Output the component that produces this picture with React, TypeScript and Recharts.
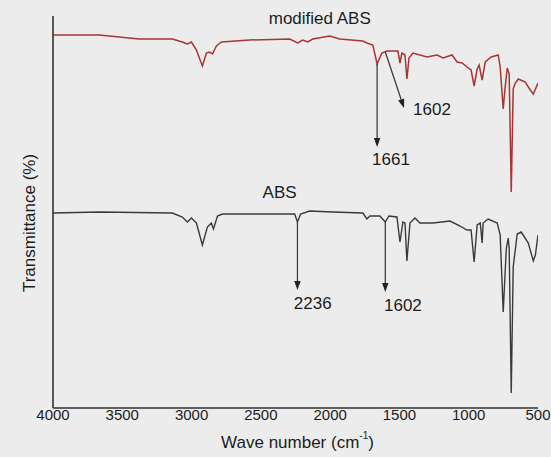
import React from 'react';
import { LineChart, Line, XAxis, YAxis, ReferenceLine, ReferenceDot } from 'recharts';

// Wavenumbers (cm-1) and transmittance (arbitrary %, offset spectra)
const modWn = [4000,3667,3378,3139,3067,3030,3001,2965,2922,2893,2871,2849,2821,2784,2582,2292,2234,2198,2162,2126,2003,1931,1764,1735,1692,1661,1627,1590,1511,1496,1482,1460,1446,1431,1402,1301,1229,1185,1120,1084,1048,1012,983,961,939,925,903,881,838,787,773,751,737,722,708,693,679,664,642,592,556,534,500];
const modT = [93.25,93.25,92.25,92.25,91.5,91,91.5,89.5,85.5,88.75,89,88.5,90.5,91.5,92,92.25,91.25,92,91.5,92.25,93,92.25,91.75,91.25,90.75,86,88.75,89.25,89.25,86.25,88.75,88.25,82.25,87.5,88.75,87.75,88.25,87.5,88.25,86.5,86.25,85.25,84.5,80.5,84.75,85.75,82,86.5,87.75,88.25,85.25,74.75,80.25,85,83.5,54,79.75,81.25,82.25,81.5,79.5,78.5,81.25];

const absWn = [4000,3667,3139,3067,3030,3001,2965,2922,2886,2857,2842,2813,2777,2256,2236,2213,2148,1981,1764,1735,1713,1641,1602,1576,1518,1496,1475,1460,1446,1424,1388,1352,1258,1135,1062,1012,983,961,939,917,903,896,860,794,773,751,729,715,708,693,679,650,621,570,534,519,500];
const absT = [48.75,49,48.75,47.75,46.5,47.5,46.25,40.75,45.25,46.25,44.75,48,48.5,48.5,46.5,48.5,49.25,49,48.75,47.25,48,48,46.5,48,47.75,41.5,46.5,46.25,36.75,46.25,47.5,46.25,46.25,46.75,45.5,44.5,44.5,36.5,45.75,46.25,41.25,46.25,47.25,46.25,43.25,24,39.75,42.5,40,3.75,35.25,43.5,44,41.25,36.75,38.25,43.25];

const xTicks = [4000, 3500, 3000, 2500, 2000, 1500, 1000, 500];

const arrows = [
  { x1: 1661, y1: 86, x2: 1661, y2: 65.25 },
  { x1: 1602, y1: 89, x2: 1467, y2: 75 },
  { x1: 2236, y1: 46.5, x2: 2236, y2: 29.5 },
  { x1: 1602, y1: 46.5, x2: 1602, y2: 29 },
];

const labels = [
  { text: 'modified ABS', x: 2075, y: 97.5 },
  { text: 'ABS', x: 2365, y: 54 },
  { text: '1602', x: 1265, y: 74.75 },
  { text: '1661', x: 1561, y: 62.25 },
  { text: '2236', x: 2126, y: 26.25 },
  { text: '1602', x: 1475, y: 25.75 },
];

const modData = modWn.map((wn, i) => ({ wn, t: modT[i] }));
const absData = absWn.map((wn, i) => ({ wn, t: absT[i] }));

const FONT = 'Liberation Sans, Arial, sans-serif';
const TEXT = '#1c1c1c';

const ArrowShape = (props: any) => {
  const { x1, y1, x2, y2 } = props;
  if ([x1, y1, x2, y2].some((v) => typeof v !== 'number' || isNaN(v))) return null;
  const ang = Math.atan2(y2 - y1, x2 - x1);
  const L = 9;
  const W = 3.2;
  const bx = x2 - L * Math.cos(ang);
  const by = y2 - L * Math.sin(ang);
  const px = -Math.sin(ang) * W;
  const py = Math.cos(ang) * W;
  return (
    <g>
      <line x1={x1} y1={y1} x2={bx} y2={by} stroke="#333" strokeWidth={1.2} />
      <polygon points={`${x2},${y2} ${bx + px},${by + py} ${bx - px},${by - py}`} fill="#222" />
    </g>
  );
};

const makeTextShape = (text: string) => (p: any) => (
  <text
    x={p.cx}
    y={p.cy}
    textAnchor="middle"
    dominantBaseline="central"
    fontFamily={FONT}
    fontSize={17}
    fill={TEXT}
  >
    {text}
  </text>
);

const YLabel = (props: any) => {
  const vb = props.viewBox || {};
  const cx = (vb.x || 0) + (vb.width || 0) / 2 + 3;
  const cy = (vb.y || 0) + (vb.height || 0) / 2 + 11;
  return (
    <text
      x={cx}
      y={cy}
      transform={`rotate(-90, ${cx}, ${cy})`}
      textAnchor="middle"
      dominantBaseline="central"
      fontFamily={FONT}
      fontSize={17}
      fill={TEXT}
    >
      Transmittance (%)
    </text>
  );
};

const XLabel = (props: any) => {
  const vb = props.viewBox || {};
  const cx = (vb.x || 0) + (vb.width || 0) / 2 + 2;
  const cy = (vb.y || 0) + 34;
  return (
    <text x={cx} y={cy} textAnchor="middle" dominantBaseline="central" fontFamily={FONT} fontSize={17} fill={TEXT}>
      Wave number (cm
      <tspan dy={-7} fontSize={10}>-1</tspan>
      <tspan dy={7}>)</tspan>
    </text>
  );
};

export default function App() {
  return (
    <div style={{ position: 'absolute', left: 0, top: 0, width: 551, height: 457, background: '#ececec' }}>
      <LineChart width={551} height={457} margin={{ top: 16, right: 13, bottom: 0, left: 0 }}>
        <XAxis
          type="number"
          dataKey="wn"
          domain={[500, 4000]}
          reversed
          ticks={xTicks}
          interval={0}
          allowDataOverflow
          tickLine={false}
          tickSize={0}
          tickMargin={1}
          height={49}
          axisLine={{ stroke: '#333', strokeWidth: 1.6 }}
          tick={{ fontSize: 15, fill: TEXT, fontFamily: FONT }}
          label={<XLabel />}
        />
        <YAxis
          type="number"
          domain={[0, 98]}
          width={53}
          tick={false}
          tickLine={false}
          axisLine={{ stroke: '#333', strokeWidth: 1.6 }}
          label={<YLabel />}
        />
        <Line data={absData} dataKey="t" type="linear" dot={false} stroke="#3a3a3a" strokeWidth={1.4} isAnimationActive={false} />
        <Line data={modData} dataKey="t" type="linear" dot={false} stroke="#a83535" strokeWidth={1.5} isAnimationActive={false} />
        {arrows.map((a, i) => (
          <ReferenceLine
            key={`a${i}`}
            segment={[{ x: a.x1, y: a.y1 }, { x: a.x2, y: a.y2 }]}
            shape={ArrowShape}
            ifOverflow="visible"
          />
        ))}
        {labels.map((l, i) => (
          <ReferenceDot key={`l${i}`} x={l.x} y={l.y} r={1} shape={makeTextShape(l.text)} ifOverflow="visible" />
        ))}
      </LineChart>
    </div>
  );
}
